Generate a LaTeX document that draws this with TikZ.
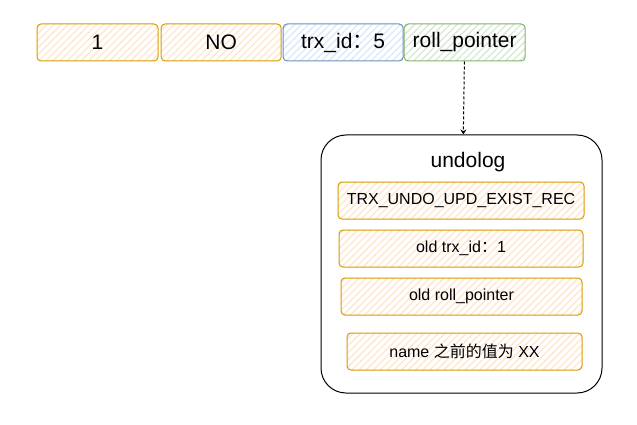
\documentclass[tikz,border=0pt]{standalone}
\usepackage{fontspec}
\setmainfont{Liberation Sans}
\newfontfamily\cjk{Noto Sans CJK SC}
\usetikzlibrary{arrows.meta,positioning,patterns.meta}
\definecolor{orangeline}{HTML}{D79B00}
\definecolor{orangefill}{HTML}{FFE6CC}
\definecolor{blueline}{HTML}{6C8EBF}
\definecolor{bluefill}{HTML}{DAE8FC}
\definecolor{greenline}{HTML}{82B366}
\definecolor{greenfill}{HTML}{D5E8D4}

\begin{document}
\begin{tikzpicture}[
    x=1pt, y=-1pt,
    node distance=48pt,
    >={Stealth[length=5pt,width=6pt]},
    font=\fontsize{21}{25}\selectfont,
    field/.style={
		rectangle,
		rounded corners=4pt,
		draw=orangeline,
		line width=1pt,
		text centered,
		minimum height=37pt,
		minimum width=121pt,
		inner sep=0pt,
		pattern={Lines[angle=45,distance=5pt,line width=1.3pt]},
		pattern color=orangefill
	},
	bluefield/.style={
		field,
		draw=blueline,
		pattern color=bluefill
	},
	greenfield/.style={
		field,
		draw=greenline,
		pattern color=greenfill
	},
	logbox/.style={
		rectangle,
		rounded corners=25pt,
		draw=black,
		line width=1pt,
		minimum width=281pt,
		minimum height=258pt,
		fill=white
	},
	entry/.style={
		field,
		font=\fontsize{16}{19}\selectfont
	}
  ]

 \useasboundingbox (0,0) rectangle (637,425);

% // The record
 \node [field] (id) at (97.5,42.5) {1};
 \node [field, right=2pt of id, minimum width=120pt] (name) {NO};
 \node [bluefield, right=1pt of name, minimum width=120pt] (trxid) {trx\_id{\cjk ：}5};
 \node [greenfield, right=0pt of trxid] (rollptr) {roll\_pointer};

% // The undo log
 \node [logbox] (undolog) at (461.5,264) {};
 \node (title) at (468,162) {undolog};

 \node [entry, minimum width=246pt] (rec) at (461,200.5) {TRX\_UNDO\_UPD\_EXIST\_REC};
 \node [entry, below of=rec, minimum width=244pt] (oldtrx) {old trx\_id{\cjk ：}1};
 \node [entry, below of=oldtrx, xshift=0.5pt, minimum width=241pt] (oldptr) {old roll\_pointer};
 \node [entry, below of=oldptr, xshift=3pt, yshift=-7pt, minimum width=235pt] (oldname) {name {\cjk 之前的值为} XX};

 \draw [->, dashed, line width=1pt, dash pattern=on 3pt off 2pt] (rollptr) -- (undolog);

\end{tikzpicture}
\end{document}
